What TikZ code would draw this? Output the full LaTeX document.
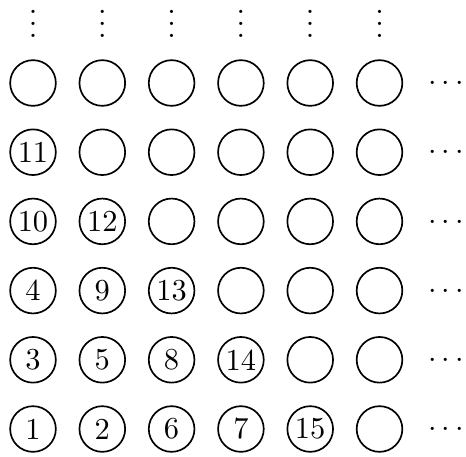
\documentclass[tikz,border=0pt]{standalone}
\newcommand{\myvdots}{\vbox{\baselineskip4pt\lineskiplimit0pt\hbox{.}\hbox{.}\hbox{.}}}
\begin{document}
\begin{tikzpicture}[x=0.3284pt,y=-0.3284pt,
  cell/.style={circle,draw,line width=0.55pt,minimum size=15pt,inner sep=0pt,font=\normalsize},
  dotsnode/.style={inner sep=0pt,anchor=base}]
\useasboundingbox (0,0) rectangle (466,456);
\foreach \c in {1,...,6}{
  \foreach \r in {1,...,6}{
    \pgfmathsetmacro{\xx}{33+69.3*(\c-1)}
    \pgfmathsetmacro{\yy}{429-69.2*(\r-1)}
    \node[cell] (c-\c-\r) at (\xx,\yy) {};
  }
}
\foreach \c/\r/\t in {1/1/1,2/1/2,3/1/6,4/1/7,5/1/15,
                      1/2/3,2/2/5,3/2/8,4/2/14,
                      1/3/4,2/3/9,3/3/13,
                      1/4/10,2/4/12,
                      1/5/11}{
  \node[inner sep=0pt] (t-\c-\r) at (c-\c-\r) {\t};
}
\foreach \c in {1,...,6}{
  \pgfmathsetmacro{\xx}{33+69.3*(\c-1)}
  \node[dotsnode] (v-\c) at (\xx,37.5) {\myvdots};
}
\foreach \r in {1,...,6}{
  \pgfmathsetmacro{\yy}{429-69.2*(\r-1)+7.6}
  \node[dotsnode] (h-\r) at (446,\yy) {$\cdots$};
}
\end{tikzpicture}
\end{document}
